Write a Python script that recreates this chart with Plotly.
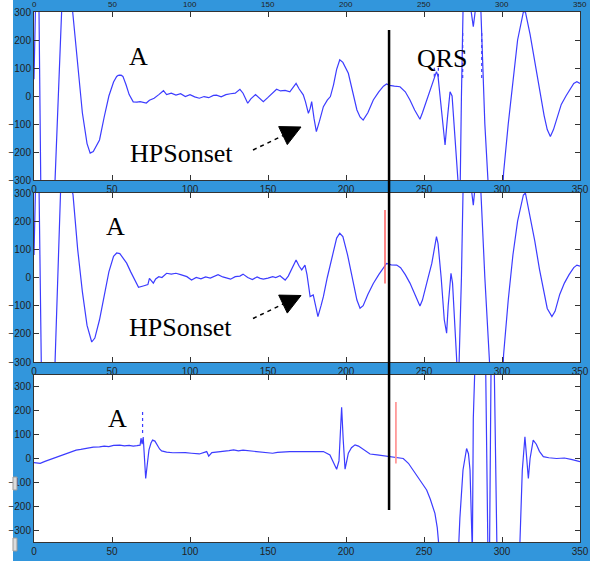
import plotly.graph_objects as go

W, H = 590, 561

# ---------------- data ----------------
p1_x = [0, 1, 3, 4.5, 11, 13.5, 17.7, 20, 24.8, 28, 31, 34, 36, 38, 40, 42, 45, 48, 51, 53, 55, 57, 59, 61, 63.6, 66, 68, 70, 72, 74, 77, 80, 83, 85, 88, 91, 94, 97, 100, 103, 106, 109, 112, 115, 117, 120, 123, 126, 129, 132, 134, 137, 139, 142, 145, 147, 150, 153, 155.5, 158, 161, 164, 168, 170, 172.6, 174, 175.9, 177, 178, 179.5, 181, 183, 185.5, 188, 190, 192, 194, 196, 198, 201.5, 204, 207, 209, 211, 214, 217.5, 221, 224, 226, 228, 231, 234.6, 238, 241, 244, 247.4, 249, 251.7, 254, 256, 258, 259, 261, 263.5, 265, 266.7, 268, 270, 272, 273, 274, 275, 277, 279.5, 281.6, 283.5, 285, 286.5, 289, 291, 293, 300, 301, 304, 307, 310, 313.7, 315, 318, 321, 324, 327, 329, 331, 333, 335, 338, 341, 344, 346, 348, 350]
p1_y = [60, 330, 420, -400, -420, -300, 300, 420, 300, 100, -60, -170, -204, -198, -180, -157, -75, 0, 50, 70, 78, 70, 40, 5, -21, -22, -20, -22, -25, -15, -8, 5, 19, 5, 10, 3, 8, -2, 5, -3, -8, -2, -6, 2, 3, -3, 5, 8, 10, 24, 10, -26, -10, 5, -8, -20, -5, 10, 24, 18, 20, 15, 45, 25, 4, -20, -62, -45, -20, -80, -127, -90, -38, -15, -2, 40, 95, 129, 120, 81, 20, -50, -75, -86, -60, -14, 15, 35, 43, 38, 35, 33, 15, -14, -50, -83, -60, -14, 25, 57, 87, 70, -50, -175, -80, 15, 0, -150, -300, -400, 0, 300, 400, 330, 248, 320, 400, 300, -100, -300, -400, -400, -275, -100, 50, 200, 300, 300, 220, 120, 20, -70, -120, -145, -120, -86, -30, 0, 25, 45, 51, 45]

p2_x = [0, 1, 3, 4.9, 12, 13.5, 17, 20, 25, 28, 31, 34, 37, 39, 42, 45, 48, 51, 53, 55, 57, 59.4, 62, 64, 67, 70, 73, 74, 76.5, 78, 80, 82, 85, 88, 91, 94, 98, 101, 104, 107, 110, 113, 115, 118, 121, 124, 126, 129, 132, 134, 137, 140, 143, 145, 147, 150, 153, 155, 157.7, 159, 161, 163, 165, 168, 170, 171.6, 173.7, 175, 177, 179, 180.5, 182, 184, 185.5, 188, 191, 194, 196, 198, 201, 204, 207, 209, 211, 214, 217.5, 221, 224, 226, 229, 232.5, 235, 238, 241, 244, 247.4, 249, 251, 252.8, 255, 257, 258, 259, 261, 263, 264.5, 265.5, 267.3, 268.3, 270, 271, 272, 274, 275, 277, 280, 281.6, 283, 284.5, 286.5, 289, 292, 294, 300, 301, 304, 307, 310, 313.7, 315, 318, 321, 324, 327, 329, 332, 334, 337, 340, 343, 346, 348, 350]
p2_y = [80, 330, 420, -400, -420, -300, 300, 420, 294, 100, -50, -170, -229, -215, -150, -60, 20, 75, 87, 85, 70, 51, 20, 0, -35, -30, -25, -3, -20, -5, 3, 0, 15, 12, 15, 10, 3, -9, 0, -5, 2, -2, 3, 10, 2, -3, -6, 3, 5, 12, 0, -7, 2, -3, -6, -2, 3, 0, 6, 0, -9, 5, 30, 62, 40, 27, 44, 10, -68, -62, -100, -139, -100, -68, 0, 70, 140, 157, 145, 80, 0, -80, -109, -100, -60, -21, 10, 35, 50, 45, 44, 35, 10, -20, -60, -101, -80, -30, 3, 50, 120, 145, 120, 0, -150, -198, -100, 15, -20, -200, -269, -400, 0, 300, 420, 330, 257, 320, 420, 300, 0, -300, -420, -420, -275, -80, 80, 200, 293, 300, 220, 130, 30, -60, -110, -139, -120, -60, -20, 10, 35, 44, 40]

p3_x = [0, 2, 4, 7, 10, 14.5, 18, 21, 24, 27, 30, 34, 38, 42, 45, 48, 51, 55, 58, 61, 63.6, 66, 68, 68.6, 69.3, 70, 70.8, 71.6, 72.7, 73.7, 75, 76, 77.5, 79, 80.5, 81.8, 85, 89, 93, 97, 101, 106, 110.7, 112, 114, 118, 122, 125, 128, 131, 134, 138, 142, 146, 150, 153, 156, 160, 164, 170, 175, 180, 185.5, 189.7, 192, 194, 195.5, 196.2, 197.2, 198.2, 199.4, 200.5, 201.5, 203.5, 205.8, 208, 211, 215.4, 220, 224, 228, 232, 236.7, 240, 243, 245, 248, 251.7, 254, 257, 258.5, 260, 272, 273, 275, 277.3, 278.5, 279.5, 281, 281.6, 282.7, 289.5, 291, 292, 293, 295, 296.8, 311, 311.5, 313, 314.7, 315.8, 316.9, 318, 320, 322, 324, 326.5, 330, 335, 340, 345, 350]
p3_y = [-17, -18, -20, -12, -5, 7, 12, 20, 28, 35, 38, 44, 48, 49, 52, 50, 55, 56, 53, 55, 52, 54, 56, 85, 60, 90, 20, -84, -20, 36, 65, 77, 73, 55, 40, 32, 27, 24, 26, 25, 22, 19, 29, 10, 25, 27, 30, 33, 36, 32, 35, 32, 30, 28, 26, 22, 26, 28, 29, 29, 28, 30, 29, 15, -20, -45, -10, 100, 215, 80, -45, -10, 22, 45, 57, 52, 40, 19, 15, 12, 8, 5, 0, -20, -50, -70, -100, -132, -170, -230, -290, -400, -400, -250, -48, 42, 20, -48, -400, 168, 400, 400, -400, -400, 400, 400, -400, -400, -350, -50, 91, 0, -84, 0, 77, 60, 30, 8, 3, 0, 2, -5, -13]

# marker lines (x, [y0, y1])
red2_x, red2_y = [225, 225], [240, -21]
red3_x, red3_y = [232, 232], [237, -21]
qrs_dots = [(256.6, 69, 105), (259.2, 69, 105), (274.8, 64, 236), (287.0, 64, 236)]
p3_dot = (69.6, 107, 207)
a_dot = ([50, 59], [80, 80])
vline_x = 227.6

xticks = [0, 50, 100, 150, 200, 250, 300, 350]
yticks = [-300, -200, -100, 0, 100, 200, 300]

# ---------------- layout helpers ----------------
BLUE = "rgb(50,150,220)"
LINE = "#3c3cff"
def px(x, y):
    return x / W, 1 - y / H

xdom = [34 / W, 580 / W]
ydoms = [[1 - 180 / H, 1 - 12 / H], [1 - 362 / H, 1 - 193 / H], [1 - 542 / H, 1 - 375 / H]]
yranges = [[-300, 300], [-300, 300], [-350, 350]]

fig = go.Figure()
def tr(x, y, ax, color=LINE, width=1.2, dash=None):
    fig.add_trace(go.Scatter(x=x, y=y, mode="lines", xaxis="x" + ax, yaxis="y" + ax,
                             line=dict(color=color, width=width, dash=dash),
                             hoverinfo="skip", showlegend=False))

tr(p1_x, p1_y, "")
tr(a_dot[0], a_dot[1], "", color="white", width=2, dash="dot")
for (xx, y0, y1) in qrs_dots:
    tr([xx, xx], [y0, y1], "", color=LINE, width=1.2, dash="dot")
tr(p2_x, p2_y, "2")
tr(red2_x, red2_y, "2", color="#ff6060", width=1.5)
tr(p3_x, p3_y, "3")
tr([p3_dot[0]] * 2, [p3_dot[1], p3_dot[2]], "3", color=LINE, width=1.2, dash="dot")
tr(red3_x, red3_y, "3", color="#ff9a9a", width=1.8)

axfont = dict(family="Liberation Sans, Arial", size=10, color="#222")
layout = dict(width=W, height=H, autosize=False, margin=dict(l=0, r=0, t=0, b=0, pad=0),
              paper_bgcolor=BLUE, plot_bgcolor="white", showlegend=False)
for i in range(3):
    s = "" if i == 0 else str(i + 1)
    layout["xaxis" + s] = dict(domain=xdom, range=[0, 350], tickvals=xticks, ticks="inside",
                               ticklen=5, tickcolor="#333", showline=True, linecolor="#333",
                               linewidth=1, mirror="ticks", showgrid=False, zeroline=False,
                               tickfont=axfont, anchor="y" + s, fixedrange=True, automargin=False)
    layout["yaxis" + s] = dict(domain=ydoms[i], range=yranges[i], tickvals=yticks, ticks="inside",
                               ticklen=5, tickcolor="#333", showline=True, linecolor="#333",
                               linewidth=1, mirror="ticks", showgrid=False, zeroline=False,
                               tickfont=axfont, anchor="x" + s, fixedrange=True, automargin=False)
fig.update_layout(**layout)

shapes = []
# white strip at the left
shapes.append(dict(type="rect", xref="paper", yref="paper", x0=0, x1=13 / W, y0=0, y1=1,
                   fillcolor="white", line=dict(width=0), layer="below"))
# small grey buttons at left edge
for (ya, yb) in [(477, 490), (538, 551)]:
    x0, y0 = px(13, ya); x1, y1 = px(17, yb)
    shapes.append(dict(type="rect", xref="paper", yref="paper", x0=x0, x1=x1, y0=y1, y1=y0,
                       fillcolor="#dcdcdc", line=dict(color="#999", width=1), layer="above"))
# black vertical line across panels
shapes.append(dict(type="line", xref="x", yref="paper", x0=vline_x, x1=vline_x,
                   y0=1 - 510 / H, y1=1 - 30 / H, line=dict(color="black", width=2.5), layer="above"))
# arrows
for dy in [0, 168.5]:
    sx, sy = px(253, 150 + dy); bx, by = px(283, 135.6 + dy)
    shapes.append(dict(type="line", xref="paper", yref="paper", x0=sx, y0=sy, x1=bx, y1=by,
                       line=dict(color="black", width=1.5, dash="4px,4px"), layer="above"))
    pts = [(301, 127 + dy), (287.3, 144.6 + dy), (278.7, 126.6 + dy)]
    path = "M " + " L ".join(f"{x / W},{1 - y / H}" for x, y in pts) + " Z"
    shapes.append(dict(type="path", xref="paper", yref="paper", path=path,
                       fillcolor="black", line=dict(color="black", width=1), layer="above"))
fig.update_layout(shapes=shapes)

ann = []
serif = dict(family="Liberation Serif, Times New Roman", size=26, color="black")
for (t, x, y) in [("A", 138, 57), ("QRS", 442, 58), ("HPSonset", 181, 153),
                  ("A", 115, 226), ("HPSonset", 180, 327), ("A", 117, 418)]:
    ax_, ay_ = px(x, y)
    ann.append(dict(text=t, x=ax_, y=ay_, xref="paper", yref="paper", showarrow=False,
                    xanchor="center", yanchor="middle", font=serif))
# tick labels of the panel above, in the thin band at the very top
topfont = dict(family="Liberation Sans, Arial", size=8, color="#222")
for v in xticks:
    ann.append(dict(text=str(v), x=v, y=1 - 5 / H, xref="x", yref="paper", showarrow=False,
                    xanchor="center", yanchor="middle", font=topfont, borderpad=0))
fig.update_layout(annotations=ann)

post = ("document.documentElement.style.overflow='hidden';"
        "document.body.style.margin='0';document.body.style.padding='0';"
        "document.body.style.overflow='hidden';"
        "var gd=document.getElementById('{plot_id}');"
        "Plotly.relayout(gd,{width:590,height:561});")
fig.write_html("out.html", config={"displayModeBar": False, "responsive": False},
               default_width="590px", default_height="561px", post_script=post)
